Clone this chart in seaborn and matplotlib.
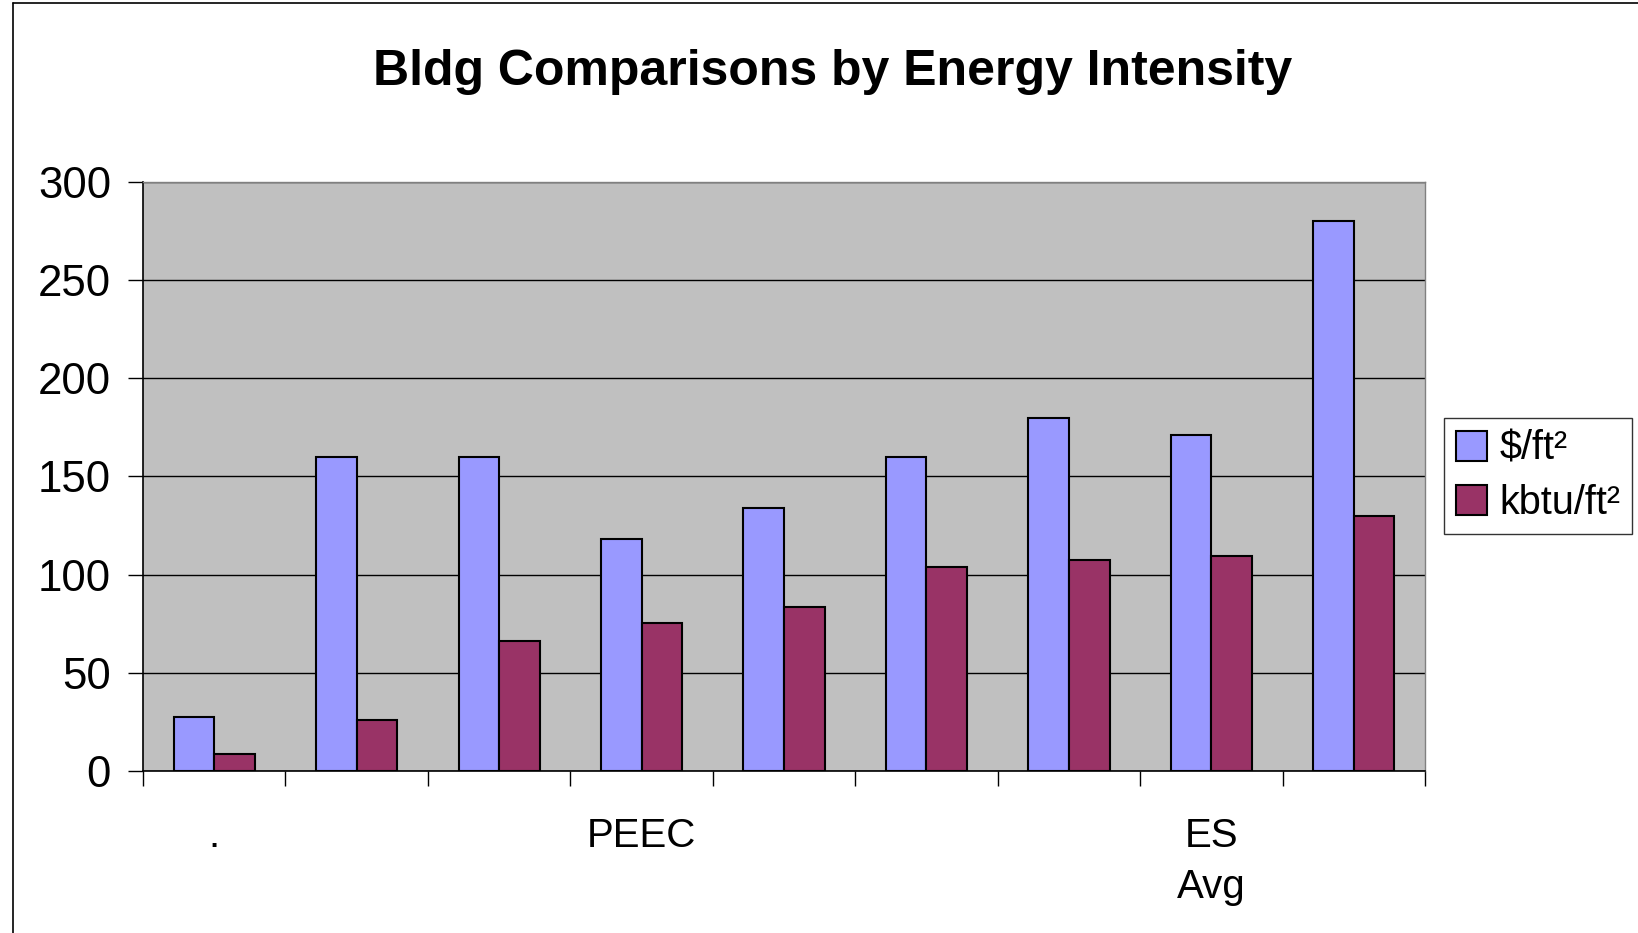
import pandas as pd
import matplotlib.pyplot as plt
import seaborn as sns
from matplotlib.lines import Line2D
from matplotlib.ticker import FixedLocator

# Data
buildings = ["B1", "B2", "B3", "B4", "B5", "B6", "B7", "B8", "B9"]
tick_labels = [".", "", "", "PEEC", "", "", "", "ES\nAvg", ""]
cost_per_ft2 = [27.5, 160, 160, 118, 134, 160, 180, 171, 280]
kbtu_per_ft2 = [8.5, 26, 66, 75.5, 83.5, 104, 107.5, 109.5, 130]
series_names = ["\\$/ft²", "kbtu/ft²"]
series_colors = ["#9999FF", "#993366"]

df = pd.DataFrame({
    "Building": buildings * 2,
    "Value": cost_per_ft2 + kbtu_per_ft2,
    "Series": [series_names[0]] * len(buildings) + [series_names[1]] * len(buildings),
})

sns.set_style("white")
plt.rcParams["font.family"] = ["Liberation Sans", "DejaVu Sans"]
plt.rcParams["text.color"] = "black"
plt.rcParams["xtick.color"] = "black"
plt.rcParams["ytick.color"] = "black"

fig = plt.figure(figsize=(16.38, 9.33), dpi=100)
ax = fig.add_axes([0.0873, 0.1736, 0.7827, 0.6314])
ax.set_facecolor("#C0C0C0")

sns.barplot(data=df, x="Building", y="Value", hue="Series", palette=series_colors,
            saturation=1, width=0.57, edgecolor="black", linewidth=1.5, ax=ax,
            legend=False)

ax.set_ylim(0, 300)
ax.set_xlim(-0.5, len(buildings) - 0.5)
ax.set_yticks(range(0, 301, 50))
ax.yaxis.grid(True, color="black", linewidth=1)
ax.set_axisbelow(True)
ax.tick_params(axis="y", labelsize=31.5, length=11, width=1, color="black",
               labelcolor="black", direction="out", left=True, pad=12)

ax.set_xticks(range(len(buildings)))
ax.set_xticklabels(tick_labels, fontsize=29, va="top", linespacing=1.45)
ax.tick_params(axis="x", which="major", length=0, pad=33, labelcolor="black")
ax.xaxis.set_minor_locator(FixedLocator([i - 0.5 for i in range(len(buildings) + 1)]))
ax.tick_params(axis="x", which="minor", length=11, width=1, color="black",
               direction="out", bottom=True)
ax.set_xlabel("")
ax.set_ylabel("")

for side in ["left", "bottom"]:
    ax.spines[side].set_color("black")
    ax.spines[side].set_linewidth(1.2)
for side in ["top", "right"]:
    ax.spines[side].set_color("#808080")
    ax.spines[side].set_linewidth(1)

handles = [plt.Rectangle((0, 0), 1, 1, facecolor=c, edgecolor="black", linewidth=1.5)
           for c in series_colors]
leg = fig.legend(handles, series_names, loc="center left",
                 bbox_to_anchor=(0.8815, 0.490), fontsize=28.5, frameon=True,
                 fancybox=False, handlelength=0.8, handleheight=0.8,
                 handletextpad=0.3, borderpad=0.3, labelspacing=0.4,
                 borderaxespad=0)
leg.get_frame().set_edgecolor("black")
leg.get_frame().set_linewidth(1)
for t in leg.get_texts():
    t.set_color("black")

fig.suptitle("Bldg Comparisons by Energy Intensity", fontsize=36,
             fontweight="bold", color="black", x=0.508, y=0.948)

# chart-area border (left and top edges visible)
fig.add_artist(Line2D([0.008, 0.008], [0, 0.9968], transform=fig.transFigure,
                      color="black", linewidth=1.2))
fig.add_artist(Line2D([0.008, 1.0], [0.9968, 0.9968], transform=fig.transFigure,
                      color="black", linewidth=1.2))

fig.savefig("out.png", dpi=100)
